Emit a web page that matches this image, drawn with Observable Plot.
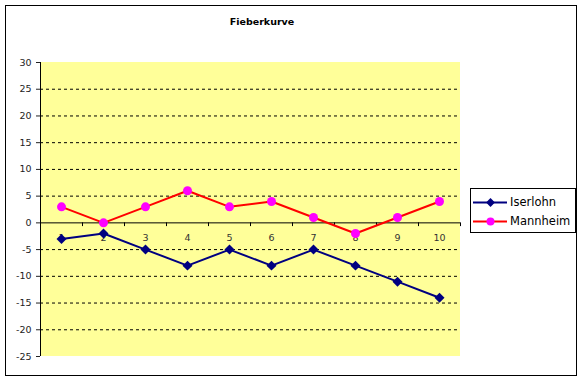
<!DOCTYPE html>
<html>
<head>
<meta charset="utf-8">
<script src="https://cdn.jsdelivr.net/npm/d3@7"></script>
<script src="https://cdn.jsdelivr.net/npm/@observablehq/plot@0.6"></script>
<style>
  html, body { margin: 0; padding: 0; background: #fff; }
  #wrap { position: relative; width: 582px; height: 381px; font-family: "DejaVu Sans", sans-serif; }
  #frame { position: absolute; left: 5px; top: 5px; width: 572px; height: 371px; border: 1px solid #000; box-sizing: border-box; }
  #title { position: absolute; left: 0; width: 524px; top: 16px; text-align: center; font-size: 9.5px; font-weight: bold; color: #000; }
  #chart { position: absolute; left: 0; top: 0; }
  #legend { position: absolute; left: 470px; top: 188px; width: 106px; height: 45px; border: 1px solid #000; box-sizing: border-box; background: #fff; font-size: 11.5px; }
  .item { position: absolute; left: 2px; height: 16px; display: flex; align-items: center; color: #000; }
  .item svg { margin-right: 3px; }
</style>
</head>
<body>
<div id="wrap">
  <div id="frame"></div>
  <div id="chart"></div>
  <div id="title">Fieberkurve</div>
  <div id="legend"></div>
</div>
<script>
const days = [1, 2, 3, 4, 5, 6, 7, 8, 9, 10];
const iserlohn = [-3, -2, -5, -8, -5, -8, -5, -8, -11, -14];
const mannheim = [3, 0, 3, 6, 3, 4, 1, -2, 1, 4];
const yTicks = [-25, -20, -15, -10, -5, 0, 5, 10, 15, 20, 25, 30];
const seriesNames = ["Iserlohn", "Mannheim"];
const lineColors = ["#000080", "#FF0000"];
const markerColors = ["#000080", "#FF00FF"];
const markerSymbols = ["diamond2", "circle"];

const seriesData = [iserlohn, mannheim].map(vals => days.map((d, i) => ({day: d, value: vals[i]})));
const boundaries = days.map(d => d + 0.5);
const gridVals = yTicks.filter(v => v !== 0 && v !== yTicks[0] && v !== yTicks[yTicks.length - 1]);

const marks = [
  Plot.rect([0], {x1: 0.5, x2: 10.5, y1: -25, y2: 30, fill: "#FFFF99"}),
  Plot.ruleY(gridVals, {y: d => d, x1: 0.5, x2: 10.5, stroke: "#000", strokeWidth: 1, strokeDasharray: "3,3"}),
  Plot.ruleY([0], {y: d => d, x1: 0.5, x2: 10.5, stroke: "#000", strokeWidth: 1}),
  Plot.ruleX(boundaries, {x: d => d, y1: 0, y2: -0.7, stroke: "#000", strokeWidth: 1}),
  Plot.ruleX([0.5], {x: d => d, y1: -25, y2: 30, stroke: "#000", strokeWidth: 1}),
  Plot.text(days, {x: d => d, y: 0, text: d => String(d), dy: 15, fontSize: 9.5, fill: "#333"})
];
seriesData.forEach((data, k) => {
  marks.push(Plot.line(data, {x: "day", y: "value", stroke: lineColors[k], strokeWidth: 2}));
  marks.push(Plot.dot(data, {x: "day", y: "value", fill: markerColors[k], symbol: markerSymbols[k], r: 4.5, stroke: "none"}));
});

const chart = Plot.plot({
  width: 582,
  height: 381,
  marginLeft: 40,
  marginRight: 122,
  marginTop: 62,
  marginBottom: 25,
  style: {background: "transparent", fontFamily: "DejaVu Sans, sans-serif", fontSize: "9.5px", color: "#222"},
  x: {type: "linear", domain: [0.5, 10.5], axis: null},
  y: {type: "linear", domain: [-25, 30], ticks: yTicks, tickSize: 4, tickPadding: 5, tickFormat: d => String(d), label: null, axis: "left"},
  marks
});
document.getElementById("chart").appendChild(chart);

// legend
const legend = document.getElementById("legend");
seriesNames.forEach((name, k) => {
  const item = document.createElement("div");
  item.className = "item";
  item.style.top = (5 + k * 19) + "px";
  const sw = Plot.plot({
    width: 34, height: 16, margin: 0,
    x: {domain: [0, 1], axis: null}, y: {domain: [0, 1], axis: null},
    style: {background: "transparent", overflow: "visible"},
    marks: [
      Plot.ruleY([0.5], {y: d => d, x1: 0, x2: 1, stroke: lineColors[k], strokeWidth: 2}),
      Plot.dot([0.5], {x: d => d, y: 0.5, fill: markerColors[k], symbol: markerSymbols[k], r: 4, stroke: "none"})
    ]
  });
  item.appendChild(sw);
  const label = document.createElement("span");
  label.textContent = name;
  item.appendChild(label);
  legend.appendChild(item);
});
</script>
</body>
</html>
